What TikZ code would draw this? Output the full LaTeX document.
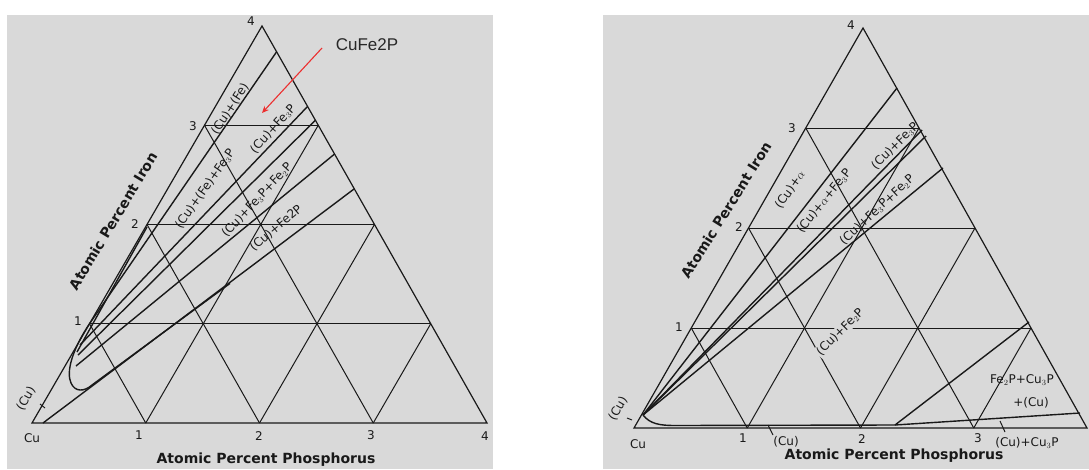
\documentclass[tikz,border=0pt]{standalone}
\usepackage{fontspec}
\setmainfont{DejaVu Sans}
\newfontfamily\annfont{Liberation Sans}
\usetikzlibrary{arrows.meta}
\definecolor{panelgray}{RGB}{217,217,217}
\definecolor{ink}{RGB}{25,25,25}
\definecolor{annred}{RGB}{236,48,48}
\definecolor{anntext}{RGB}{40,40,40}
\begin{document}
\begin{tikzpicture}[x=1pt,y=-1pt,
  edge/.style={draw=ink,line width=1.2pt},
  gridl/.style={draw=ink,line width=1pt},
  phase/.style={draw=ink,line width=1.4pt},
  lab/.style={text=ink,font=\fontsize{12}{12}\selectfont,inner sep=0pt},
  ticklab/.style={text=ink,font=\fontsize{12}{12}\selectfont,inner sep=0pt},
  axislab/.style={text=ink,font=\fontsize{14}{14}\selectfont\bfseries,inner sep=0pt}]
\useasboundingbox (0,0) rectangle (1089,469);
\fill[white] (0,0) rectangle (1089,469);
\fill[panelgray] (7,15) rectangle (493,469);
\fill[panelgray] (603,15) rectangle (1089,469);
% ---------------- left panel ----------------
\begin{scope}[shift={(32,423)},x={(113.75pt,0pt)},y={(57.5pt,99.25pt)}]
  \draw[edge] (0,0) coordinate (LCu) -- (4,0) coordinate (LP) -- (0,4) coordinate (LFe) -- cycle;
  \foreach \k in {1,2,3}{
    \draw[gridl] (0,\k) -- ({4-\k},\k);
    \draw[gridl] (\k,0) -- (0,\k);
    \draw[gridl] (\k,0) -- (\k,{4-\k});
  }
\end{scope}
\coordinate (La) at (89.5,323.75);
\coordinate (Lb) at (92,385);
\coordinate (Lm) at (230,283.4);
\draw[phase] (La) -- (276.6,51.8);
\draw[phase] (80,345) -- (307.6,106.4);
\draw[phase] (78,355) -- (315.4,120.3);
\draw[phase] (76,366) -- (334.6,154);
\draw[phase] (43,423) -- (354.3,188.8);
\draw[phase] (La) .. controls (72,350) and (66,372) .. (71,383) .. controls (75,392) and (84,392) .. (Lb) -- (Lm);
\draw[phase] (77,352) -- (147,227);
\draw[gridl] (40,404) -- (45,408);
% labels left
\node[ticklab] (l4) at (251,21) {4};
\node[ticklab] (l3) at (193,126) {3};
\node[ticklab] (l2) at (135,224) {2};
\node[ticklab] (l1) at (78,321) {1};
\node[ticklab] (lcu) at (32,438) {Cu};
\node[ticklab] (b1) at (139,435) {1};
\node[ticklab] (b2) at (259,436) {2};
\node[ticklab] (b3) at (371,435) {3};
\node[ticklab] (b4) at (485,436) {4};
\node[ticklab,rotate=60] (lcup) at (26,399) {(Cu)};
\node[axislab] (lax) at (266,460) {Atomic Percent Phosphorus};
\node[axislab,rotate=59] (lay) at (113,221) {Atomic Percent Iron};
\node[lab,rotate=57] (r1) at (230,109) {(Cu)+(Fe)};
\node[lab,rotate=55] (r2) at (205,189) {(Cu)+(Fe)+Fe$_3$P};
\node[lab,rotate=48] (r3) at (273,129) {(Cu)+Fe$_3$P};
\node[lab,rotate=47] (r4) at (257,200) {(Cu)+Fe$_3$P+Fe$_2$P};
\node[lab,rotate=40] (r5) at (276,228) {(Cu)+Fe2P};
% annotation
\node[text=anntext,font=\annfont\fontsize{17}{17}\selectfont,inner sep=0pt] (ann) at (367,45) {CuFe2P};
\coordinate (annend) at (262,113);
\draw[annred,line width=1.1pt,-{Stealth[length=7pt,width=6pt]}] (322,48) -- (annend);
% ---------------- right panel ----------------
\begin{scope}[shift={(634,428)},x={(113.25pt,0pt)},y={(57.25pt,100pt)}]
  \draw[edge] (0,0) coordinate (RCu) -- (4,0) coordinate (RP) -- (0,4) coordinate (RFe) -- cycle;
  \foreach \k in {1,2,3}{
    \draw[gridl] (0,\k) -- ({4-\k},\k);
    \draw[gridl] (\k,0) -- (0,\k);
    \draw[gridl] (\k,0) -- (\k,{4-\k});
  }
\end{scope}
\coordinate (K) at (643,415);
\coordinate (Q) at (895,425);
\draw[phase] (K) -- (897,88);
\draw[phase] (K) -- (922,130);
\draw[phase] (K) -- (926,136);
\draw[phase] (K) -- (943,168);
\draw[phase] (K) .. controls (650,424) and (660,425.5) .. (675,425.5) -- (Q);
\draw[phase] (Q) -- (1029,322);
\draw[phase] (Q) -- (1080,413);
\draw[gridl] (768,425) -- (773,435);
\draw[gridl] (1000,421) -- (1005,432);
\draw[gridl] (627,418) -- (632,420);
% labels right
\node[ticklab] (rl4) at (851,25) {4};
\node[ticklab] (rl3) at (792,128) {3};
\node[ticklab] (rl2) at (739,227) {2};
\node[ticklab] (rl1) at (679,327) {1};
\node[ticklab] (rcu) at (638,444) {Cu};
\node[ticklab] (rb1) at (743,438) {1};
\node[ticklab] (rb2) at (862,439) {2};
\node[ticklab] (rb3) at (978,438) {3};
\node[ticklab,rotate=60] (rcup) at (618,409) {(Cu)};
\node[axislab] (rax) at (894,456) {Atomic Percent Phosphorus};
\node[axislab,rotate=58] (ray) at (726,210) {Atomic Percent Iron};
\node[lab,rotate=55] (s1) at (790,190) {(Cu)+$\alpha$};
\node[lab,rotate=51] (s2) at (824,201) {(Cu)+$\alpha$+Fe$_3$P};
\node[lab,rotate=45] (s3) at (895,146) {(Cu)+Fe$_3$P};
\node[lab,rotate=43] (s4) at (877,210) {(Cu)+Fe$_3$P+Fe$_2$P};
\node[lab,rotate=45,fill=panelgray,inner sep=1pt] (s5) at (840,332) {(Cu)+Fe$_2$P};
\node[lab] (s6) at (1022,380) {Fe$_2$P+Cu$_3$P};
\node[lab] (s7) at (1031,403) {+(Cu)};
\node[lab] (s8) at (786,442) {(Cu)};
\node[lab] (s9) at (1027,443) {(Cu)+Cu$_3$P};
\end{tikzpicture}
\end{document}
